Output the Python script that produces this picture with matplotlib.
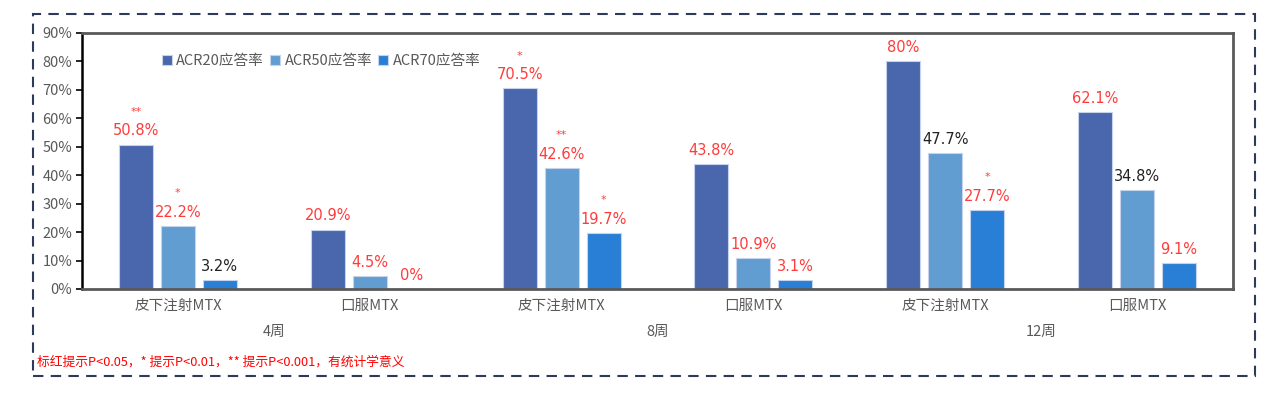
import matplotlib
matplotlib.use("Agg")
import matplotlib.pyplot as plt
from matplotlib.patches import Rectangle
from matplotlib.transforms import blended_transform_factory
import numpy as np

plt.rcParams['font.family'] = ['Noto Sans CJK SC', 'DejaVu Sans']

categories = ["皮下注射MTX", "口服MTX", "皮下注射MTX", "口服MTX", "皮下注射MTX", "口服MTX"]
weeks = ["4周", "8周", "12周"]
series_names = ["ACR20应答率", "ACR50应答率", "ACR70应答率"]
acr20 = [50.8, 20.9, 70.5, 43.8, 80.0, 62.1]
acr50 = [22.2, 4.5, 42.6, 10.9, 47.7, 34.8]
acr70 = [3.2, 0.0, 19.7, 3.1, 27.7, 9.1]
acr20_labels = ["50.8%", "20.9%", "70.5%", "43.8%", "80%", "62.1%"]
acr50_labels = ["22.2%", "4.5%", "42.6%", "10.9%", "47.7%", "34.8%"]
acr70_labels = ["3.2%", "0%", "19.7%", "3.1%", "27.7%", "9.1%"]
acr20_stars = ["**", "", "*", "", "", ""]
acr50_stars = ["*", "", "**", "", "", ""]
acr70_stars = ["", "", "*", "", "*", ""]
acr20_sig = [True, True, True, True, True, True]
acr50_sig = [True, True, True, True, False, False]
acr70_sig = [False, True, True, True, True, True]
footnote = "标红提示P<0.05，* 提示P<0.01，** 提示P<0.001，有统计学意义"

colors = ["#4A66AC", "#629DD1", "#297FD5"]
RED = "#FF3B3B"
GRAY = "#595959"

W, H = 1280, 397
fig = plt.figure(figsize=(W / 100, H / 100), dpi=100)
ax = fig.add_axes([82 / W, 1 - 289 / H, (1233 - 82) / W, (289 - 33) / H])

x = np.arange(len(categories))
width = 0.177
offs = [-0.219, 0.0, 0.219]
series = [acr20, acr50, acr70]
labels = [acr20_labels, acr50_labels, acr70_labels]
stars = [acr20_stars, acr50_stars, acr70_stars]
sigs = [acr20_sig, acr50_sig, acr70_sig]

for vals, off, col, name, labs, sts, sg in zip(series, offs, colors, series_names, labels, stars, sigs):
    ax.bar(x + off, vals, width, color=col, edgecolor="#C5D3EC", linewidth=0.8, label=name, zorder=2)
    for xi, v, lab, st, s in zip(x + off, vals, labs, sts, sg):
        c = RED if s else "#222222"
        ax.annotate(lab, (xi, v), xytext=(0, 4.5), textcoords="offset points",
                    ha="center", va="bottom", fontsize=10.5, color=c, family=['DejaVu Sans'])
        if st:
            ax.annotate(st, (xi, v), xytext=(0, 20), textcoords="offset points",
                        ha="center", va="bottom", fontsize=8, color=RED, family=['DejaVu Sans'])

ax.set_xlim(-0.5, 5.5)
ax.set_ylim(0, 90)
ax.set_yticks(np.arange(0, 91, 10))
ax.set_yticklabels([f"{v}%" for v in range(0, 91, 10)], fontsize=10.5, color=GRAY)
ax.tick_params(axis="y", direction="out", length=4, width=1.2, color="#000000", pad=3)
ax.set_xticks([])
for s in ["top", "right", "bottom"]:
    ax.spines[s].set_color(GRAY)
    ax.spines[s].set_linewidth(2)
ax.spines["left"].set_color("#000000")
ax.spines["left"].set_linewidth(1.8)

tr = blended_transform_factory(ax.transData, ax.transAxes)
for xi, c in zip(x, categories):
    ax.text(xi, -17 / 256, c, transform=tr, ha="center", va="center", fontsize=10.5, color=GRAY)
for i, wk in enumerate(weeks):
    ax.text(2 * i + 0.5, -43 / 256, wk, transform=tr, ha="center", va="center", fontsize=10.5, color=GRAY)

leg = ax.legend(loc="upper left", bbox_to_anchor=(74 / 1151, 1 - 15 / 256), ncol=3, frameon=False,
                fontsize=10.5, handlelength=0.7, handleheight=0.7, handletextpad=0.3,
                columnspacing=0.4, borderaxespad=0)
for t in leg.get_texts():
    t.set_color(GRAY)

fig.text(37 / W, 1 - 362 / H, footnote, ha="left", va="center", fontsize=9.2, color="#FF0000")

rect = Rectangle((33 / W, 1 - 376 / H), (1255 - 33) / W, (376 - 14) / H, transform=fig.transFigure,
                 fill=False, edgecolor="#2E3A59", linewidth=1.5, linestyle=(0, (5, 3.5)))
fig.patches.append(rect)

fig.savefig("out.png", dpi=100)
